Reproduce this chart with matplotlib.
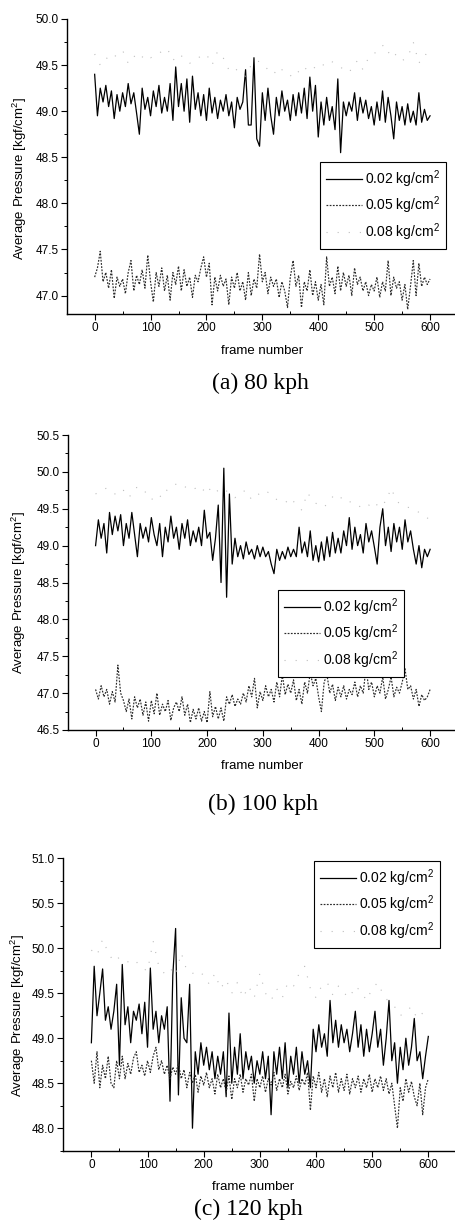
import numpy as np
import matplotlib
matplotlib.use("Agg")
import matplotlib.pyplot as plt
from matplotlib.ticker import MultipleLocator

plt.rcParams['font.family'] = ['Liberation Sans', 'DejaVu Sans']
plt.rcParams['mathtext.fontset'] = 'custom'
plt.rcParams['mathtext.rm'] = 'Liberation Sans'
plt.rcParams['mathtext.it'] = 'Liberation Sans:italic'

# ---------------- data ----------------
labels = ['0.02 kg/cm$^2$', '0.05 kg/cm$^2$', '0.08 kg/cm$^2$']
captions = ['(a) 80 kph', '(b) 100 kph', '(c) 120 kph']
xlabel = 'frame number'
ylabel = 'Average Pressure [kgf/cm$^2$]'

a_002 = [49.40, 48.95, 49.25, 49.10, 49.28, 49.05, 49.22, 48.92, 49.18, 49.00,
         49.20, 49.05, 49.30, 49.08, 49.20, 48.98, 48.75, 49.25, 49.02, 49.15,
         48.95, 49.22, 49.05, 49.28, 48.98, 49.15, 49.00, 49.30, 48.90, 49.48,
         49.05, 49.30, 49.00, 49.35, 48.88, 49.38, 49.02, 49.20, 48.95, 49.18,
         48.90, 49.25, 48.98, 49.15, 48.92, 49.12, 49.00, 49.18, 48.95, 49.10,
         48.82, 49.15, 49.02, 49.10, 49.45, 48.85, 48.85, 49.58, 48.70, 48.62,
         49.20, 48.90, 49.25, 48.95, 48.75, 49.15, 48.95, 49.22, 49.00, 49.12,
         48.90, 49.18, 48.95, 49.20, 48.98, 49.25, 48.92, 49.37, 49.00, 49.28,
         48.72, 49.10, 48.85, 49.15, 48.90, 49.05, 48.80, 49.35, 48.55, 49.10,
         48.95, 49.10, 49.00, 49.20, 48.90, 49.15, 48.98, 49.12, 48.92, 49.05,
         48.85, 49.10, 48.90, 49.22, 48.88, 49.15, 48.95, 48.70, 49.10, 48.90,
         49.05, 48.85, 49.08, 48.88, 49.00, 48.85, 49.20, 48.88, 49.02, 48.90,
         48.95]
a_005 = [47.20, 47.30, 47.48, 47.15, 47.25, 47.08, 47.28, 46.97, 47.20, 47.10,
         47.18, 47.02, 47.25, 47.38, 47.05, 47.22, 47.12, 47.28, 47.08, 47.44,
         47.15, 46.93, 47.25, 47.10, 47.30, 47.05, 47.22, 46.95, 47.25, 47.12,
         47.32, 47.05, 47.28, 47.10, 47.20, 46.98, 47.22, 47.15, 47.30, 47.42,
         47.20, 47.35, 46.90, 47.20, 47.05, 47.22, 47.10, 47.18, 46.90, 47.20,
         47.08, 47.25, 47.05, 47.15, 46.95, 47.25, 47.00, 47.18, 47.08, 47.45,
         47.15, 47.25, 47.02, 47.20, 47.10, 47.18, 46.98, 47.15, 47.05, 46.87,
         47.20, 47.38, 47.10, 47.22, 46.87, 47.15, 47.05, 47.28, 47.00, 47.15,
         46.95, 47.12, 46.90, 47.42, 47.10, 47.20, 47.02, 47.32, 47.05, 47.25,
         47.10, 47.22, 47.00, 47.30, 47.12, 47.20, 47.05, 47.15, 47.00, 47.12,
         47.05, 47.20, 46.98, 47.15, 47.05, 47.38, 47.00, 47.20, 47.08, 47.15,
         46.95, 47.12, 46.85, 47.10, 47.38, 47.00, 47.35, 47.10, 47.20, 47.12,
         47.18]
a_008 = [49.62, 49.50, 49.58, 49.55, 49.62, 49.66, 49.52, 49.60, 49.55, 49.62,
         49.58, 49.60, 49.65, 49.68, 49.55, 49.62, 49.58, 49.52, 49.55, 49.60,
         49.62, 49.50, 49.65, 49.58, 49.45, 49.48, 49.40, 49.38, 49.50, 49.55,
         49.52, 49.45, 49.40, 49.48, 49.42, 49.38, 49.45, 49.40, 49.48, 49.45,
         49.52, 49.50, 49.55, 49.52, 49.48, 49.42, 49.45, 49.55, 49.45, 49.58,
         49.62, 49.70, 49.72, 49.58, 49.62, 49.55, 49.58, 49.75, 49.52, 49.62,
         49.60]

b_002 = [49.00, 49.35, 49.10, 49.30, 48.90, 49.45, 49.15, 49.40, 49.20, 49.42,
         49.00, 49.30, 49.10, 49.45, 49.15, 48.85, 49.30, 49.10, 49.25, 49.05,
         49.38, 49.15, 49.00, 49.30, 48.85, 49.25, 49.05, 49.40, 49.10, 49.25,
         48.95, 49.30, 49.10, 49.35, 49.00, 49.20, 49.05, 49.25, 49.00, 49.48,
         49.10, 49.18, 48.80, 49.10, 49.55, 48.50, 50.05, 48.30, 49.70, 48.75,
         49.10, 48.85, 49.00, 48.82, 49.05, 48.88, 48.95, 48.82, 49.00, 48.85,
         48.98, 48.85, 48.92, 48.75, 48.62, 48.95, 48.80, 48.92, 48.82, 48.98,
         48.85, 48.95, 48.85, 49.25, 48.90, 49.05, 48.85, 49.20, 48.80, 49.00,
         48.78, 49.05, 48.80, 49.12, 48.85, 49.18, 48.90, 49.10, 48.90, 49.20,
         49.00, 49.38, 48.95, 49.25, 49.00, 49.15, 48.90, 49.30, 49.05, 49.20,
         48.98, 48.75, 49.25, 49.50, 49.00, 49.25, 48.92, 49.30, 49.05, 49.25,
         48.95, 49.35, 49.05, 49.20, 48.95, 48.75, 49.00, 48.70, 48.95, 48.85,
         48.95]
b_005 = [47.05, 46.92, 47.10, 46.95, 47.05, 46.85, 47.02, 46.88, 47.38, 47.00,
         46.90, 46.75, 46.92, 46.65, 46.95, 46.80, 46.92, 46.70, 46.88, 46.62,
         46.90, 46.72, 47.00, 46.70, 46.85, 46.75, 46.90, 46.63, 46.80, 46.88,
         46.75, 46.95, 46.70, 46.85, 46.60, 46.78, 46.65, 46.80, 46.62, 46.75,
         46.60, 47.02, 46.68, 46.82, 46.65, 46.80, 46.62, 46.95, 46.85, 46.98,
         46.82, 46.92, 46.85, 47.00, 46.88, 47.10, 46.95, 47.20, 46.80, 47.02,
         46.90, 47.10, 46.95, 47.05, 46.88, 47.15, 46.95, 47.25, 46.98, 47.12,
         47.00, 47.18, 46.90, 47.05, 46.85, 47.15, 47.00, 47.28, 47.10, 47.20,
         46.95, 46.75, 47.15, 47.25, 47.00, 47.12, 46.90, 47.08, 46.95, 47.10,
         46.92, 47.05, 46.98, 47.15, 46.95, 47.10, 47.00, 47.35, 47.05, 47.15,
         46.95, 47.10, 47.00, 47.22, 46.92, 47.05, 47.22, 46.95, 47.08, 47.00,
         47.15, 47.33, 47.05, 47.10, 46.92, 47.05, 46.82, 46.98, 46.90, 46.95,
         47.05]
b_008 = [49.70, 49.75, 49.78, 49.72, 49.68, 49.75, 49.65, 49.78, 49.80, 49.72,
         49.62, 49.70, 49.65, 49.78, 49.82, 49.85, 49.80, 49.75, 49.78, 49.72,
         49.82, 49.70, 49.75, 49.78, 49.70, 49.65, 49.72, 49.75, 49.62, 49.68,
         49.75, 49.72, 49.65, 49.60, 49.58, 49.65, 49.55, 49.48, 49.72, 49.60,
         49.55, 49.52, 49.62, 49.70, 49.65, 49.58, 49.60, 49.55, 49.50, 49.55,
         49.50, 49.62, 49.58, 49.78, 49.60, 49.55, 49.52, 49.50, 49.45, 49.40,
         49.35]

c_002 = [48.95, 49.80, 49.25, 49.50, 49.77, 49.20, 49.35, 49.10, 49.30, 49.60,
         48.70, 49.82, 49.15, 49.35, 48.95, 49.30, 49.20, 49.38, 49.05, 49.40,
         48.90, 49.78, 49.10, 49.30, 48.95, 49.25, 49.10, 49.35, 48.30, 49.70,
         50.22, 48.37, 49.45, 49.00, 48.95, 49.60, 48.00, 48.85, 48.60, 48.95,
         48.70, 48.90, 48.65, 48.85, 48.55, 48.80, 48.60, 48.85, 48.35, 49.28,
         48.50, 48.90, 48.60, 49.05, 48.55, 48.85, 48.65, 48.80, 48.50, 48.75,
         48.60, 48.85, 48.55, 48.80, 48.15, 48.85, 48.60, 48.90, 48.55, 48.95,
         48.45, 48.80, 48.60, 48.90, 48.50, 48.85, 48.60, 48.75, 48.45, 49.10,
         48.85, 49.15, 48.90, 49.05, 48.80, 49.42, 48.95, 49.20, 48.90, 49.15,
         48.95, 49.10, 48.85, 49.05, 49.30, 48.90, 49.15, 48.80, 49.10, 48.85,
         49.05, 49.30, 48.90, 49.10, 48.70, 49.00, 49.42, 48.75, 48.95, 48.50,
         48.90, 48.65, 49.00, 48.70, 48.90, 49.22, 48.75, 48.85, 48.55, 48.80,
         49.02]
c_005 = [48.75, 48.50, 48.85, 48.45, 48.70, 48.55, 48.80, 48.50, 48.45, 48.75,
         48.55, 48.80, 48.55, 48.72, 48.60, 48.78, 48.85, 48.62, 48.70, 48.58,
         48.75, 48.62, 48.80, 48.90, 48.65, 48.75, 48.60, 48.70, 48.55, 48.68,
         48.60, 48.72, 48.55, 48.65, 48.45, 48.62, 48.50, 48.60, 48.40, 48.58,
         48.48, 48.62, 48.45, 48.55, 48.38, 48.60, 48.45, 48.55, 48.40, 48.58,
         48.32, 48.55, 48.45, 48.60, 48.40, 48.55, 48.48, 48.60, 48.30, 48.55,
         48.45, 48.58, 48.40, 48.55, 48.48, 48.62, 48.42, 48.55, 48.45, 48.60,
         48.38, 48.52, 48.45, 48.58, 48.42, 48.55, 48.48, 48.62, 48.20, 48.58,
         48.45, 48.62, 48.40, 48.55, 48.35, 48.58, 48.45, 48.62, 48.40, 48.55,
         48.42, 48.60, 48.38, 48.55, 48.45, 48.58, 48.40, 48.55, 48.45, 48.60,
         48.40, 48.55, 48.45, 48.58, 48.42, 48.55, 48.38, 48.50, 48.25, 48.00,
         48.45, 48.30, 48.55, 48.40, 48.52, 48.35, 48.25, 48.50, 48.15, 48.45,
         48.55]
c_008 = [49.98, 49.92, 50.10, 49.95, 49.85, 49.90, 49.88, 49.82, 49.85, 49.78,
         49.75, 50.08, 49.80, 49.72, 49.78, 49.70, 49.95, 49.75, 49.72, 49.75,
         49.70, 49.60, 49.72, 49.55, 49.65, 49.50, 49.62, 49.45, 49.58, 49.45,
         49.72, 49.50, 49.42, 49.55, 49.45, 49.62, 49.58, 49.72, 49.80, 49.55,
         49.45, 49.58, 49.62, 49.48, 49.58, 49.50, 49.45, 49.58, 49.52, 49.42,
         49.55, 49.62, 49.48, 49.40, 49.35, 49.25, 49.30, 49.35, 49.22, 49.28,
         49.30]

panels = [
    dict(series=[a_002, a_005, a_008], ylim=(46.8, 50.0), yticks=np.arange(47.0, 50.01, 0.5),
         rect=(66.7, 19, 458, 314), legend=(320, 162), cap=(260, 383), xl=(262, 351), yl=(20, 179)),
    dict(series=[b_002, b_005, b_008], ylim=(46.5, 50.5), yticks=np.arange(46.5, 50.51, 0.5),
         rect=(67.7, 435, 458, 730), legend=(278, 590), cap=(263, 804), xl=(262, 766), yl=(19, 593)),
    dict(series=[c_002, c_005, c_008], ylim=(47.75, 51.0), yticks=np.arange(48.0, 51.01, 0.5),
         rect=(63.3, 858.3, 456.4, 1150.7), legend=(314, 861), cap=(248, 1209), xl=(253, 1187), yl=(18, 1016)),
]

W, H = 455, 1230
fig = plt.figure(figsize=(W / 100, H / 100), dpi=100)

styles = [dict(color='black', lw=0.9, ls='-'),
          dict(color='#2a2a2a', lw=0.85, ls=(0, (1.5, 1.2))),
          dict(color='#bdbdbd', lw=0.8, ls=(0, (1, 9)))]

for p in panels:
    x0, y0, x1, y1 = p['rect']
    ax = fig.add_axes([x0 / W, 1 - y1 / H, (x1 - x0) / W, (y1 - y0) / H])
    handles = []
    for vals, st, lab in zip(p['series'], styles, labels):
        fr = np.linspace(0, 600, len(vals))
        h, = ax.plot(fr, vals, label=lab, **st)
        handles.append(h)
    ax.set_xlim(-50, 650)
    ax.set_ylim(*p['ylim'])
    ax.set_xticks([0, 100, 200, 300, 400, 500, 600])
    ax.set_yticks(p['yticks'])
    ax.set_yticklabels([f'{v:.1f}' for v in p['yticks']])
    ax.xaxis.set_minor_locator(MultipleLocator(50))
    ax.yaxis.set_minor_locator(MultipleLocator(0.25))
    for s in ['top', 'right']:
        ax.spines[s].set_visible(False)
    for s in ['left', 'bottom']:
        ax.spines[s].set_linewidth(1.0)
    ax.tick_params(which='major', direction='out', length=4, width=0.8, labelsize=8.5, pad=2)
    ax.tick_params(axis='x', which='minor', direction='in', length=2.5, width=0.7)
    ax.tick_params(axis='y', which='minor', direction='out', length=2.5, width=0.7)
    lx, ly = p['legend']
    leg = ax.legend(handles=handles, loc='upper left', bbox_to_anchor=(lx / W, 1 - ly / H),
                    bbox_transform=fig.transFigure, borderaxespad=0, fancybox=False,
                    edgecolor='black', framealpha=1, fontsize=10, handlelength=2.6,
                    handletextpad=0.2, labelspacing=0.35, borderpad=0.45)
    leg.get_frame().set_linewidth(0.8)
    fig.text(p['xl'][0] / W, 1 - p['xl'][1] / H, xlabel, ha='center', va='center', fontsize=9.5)
    fig.text(p['yl'][0] / W, 1 - p['yl'][1] / H, ylabel, ha='center', va='center',
             rotation=90, fontsize=9.5)

for p, c in zip(panels, captions):
    fig.text(p['cap'][0] / W, 1 - p['cap'][1] / H, c, ha='center', va='center',
             fontsize=17, family=['Liberation Serif', 'DejaVu Serif'])

fig.savefig('out.png', dpi=100)
